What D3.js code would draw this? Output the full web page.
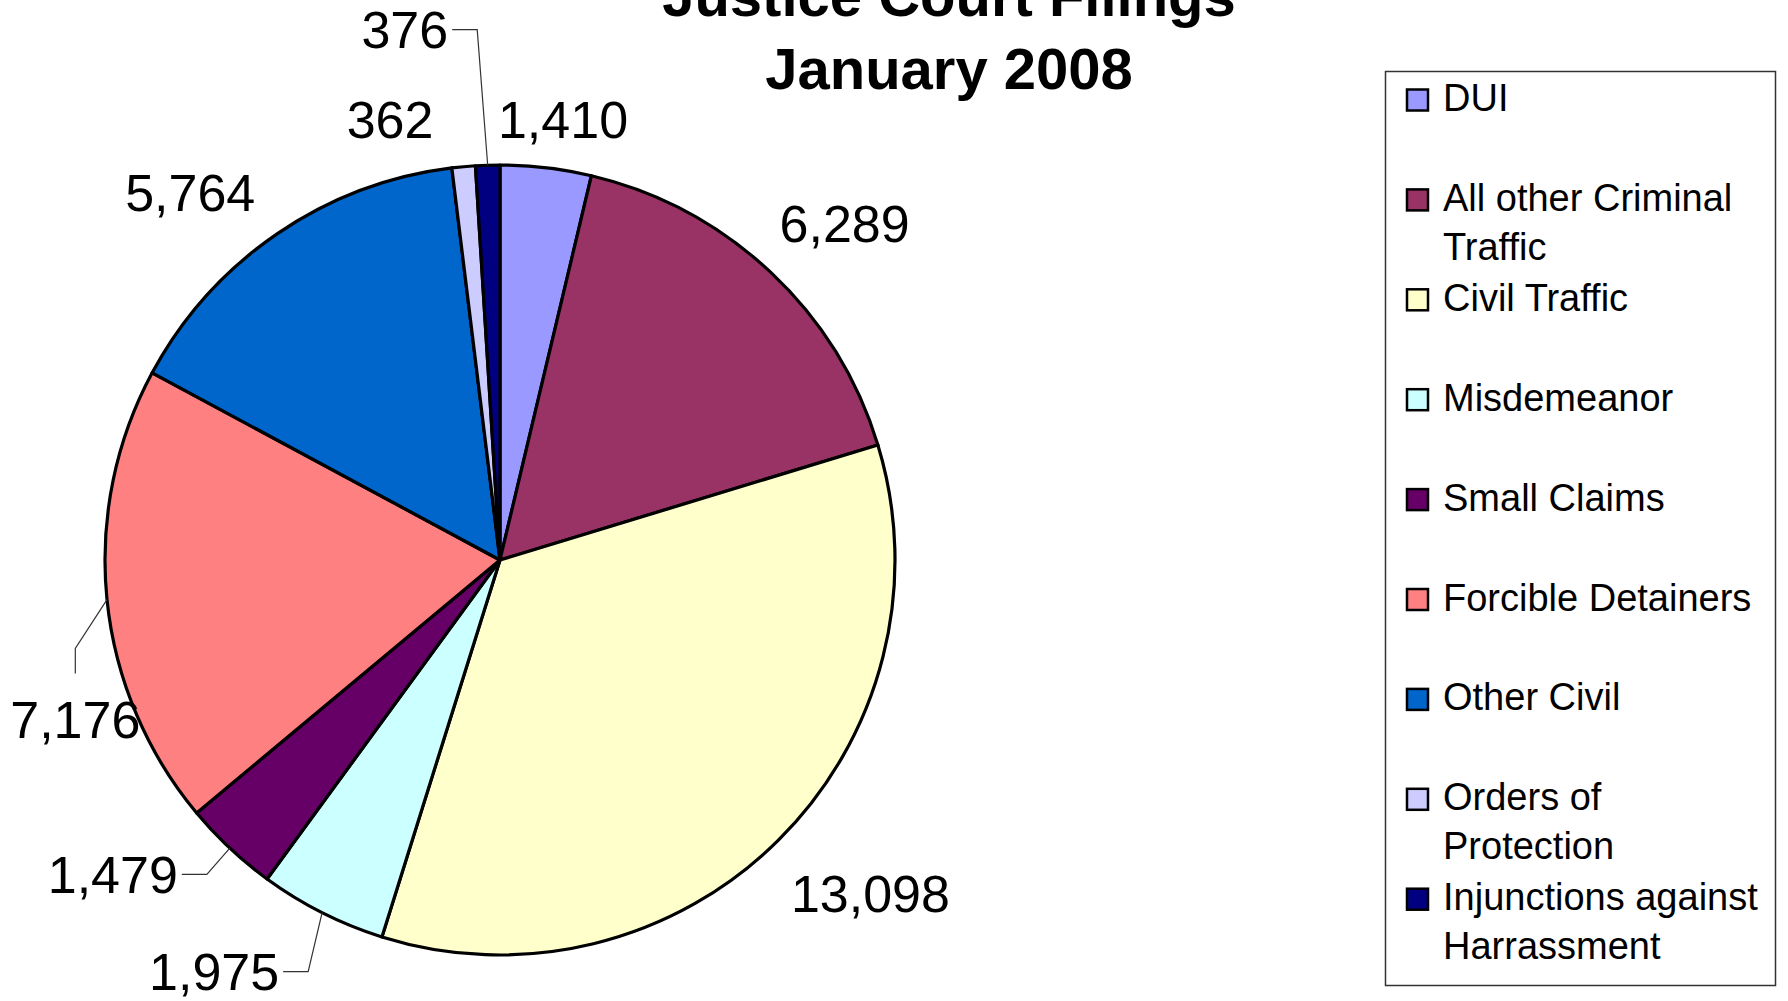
<!DOCTYPE html>
<html>
<head>
<meta charset="utf-8">
<script src="https://cdn.jsdelivr.net/npm/d3@7"></script>
<style>
  html, body { margin: 0; padding: 0; background: #fff; }
  svg { display: block; }
  text { font-family: "Liberation Sans", Arial, sans-serif; }
</style>
</head>
<body>
<svg id="chart" width="1788" height="1001"></svg>
<script>
// ---- data ----
const titleLines = ["Justice Court Filings", "January 2008"];
const categories = ["DUI", "All other Criminal Traffic", "Civil Traffic", "Misdemeanor",
  "Small Claims", "Forcible Detainers", "Other Civil", "Orders of Protection",
  "Injunctions against Harrassment"];
const legendLines = [["DUI"], ["All other Criminal", "Traffic"], ["Civil Traffic"], ["Misdemeanor"],
  ["Small Claims"], ["Forcible Detainers"], ["Other Civil"], ["Orders of", "Protection"],
  ["Injunctions against", "Harrassment"]];
const values = [1410, 6289, 13098, 1975, 1479, 7176, 5764, 362, 376];
const colors = ["#9999FF", "#993366", "#FFFFCC", "#CCFFFF", "#660066", "#FF8080", "#0066CC", "#CCCCFF", "#000080"];

// ---- layout (not data) ----
const cx = 500, cy = 560, R = 395;
const labelRadius = R + 60;
// offsets of each label from its anchor on the label circle
const labelOffsets = [[10, 30], [33, 14], [50, 29], [-81, 24], [-76, 1], [28, 132], [-53, 27], [-68, 31], [-81, -57]];
// leader style per slice: null = none, "right" = elbow to the right of text, "top" = elbow above text
const leaderStyle = [null, null, null, "right", "right", "top", null, null, "right"];

const svg = d3.select("#chart");
const fmt = d3.format(",");

// title
svg.append("g").selectAll("text").data(titleLines).join("text")
  .attr("x", 949).attr("y", (d, i) => 16 + i * 73)
  .attr("text-anchor", "middle")
  .attr("font-size", 58).attr("font-weight", "bold")
  .text(d => d);

// pie
const pie = d3.pie().sort(null).value(d => d).startAngle(0).endAngle(2 * Math.PI);
const arcs = pie(values);
const arc = d3.arc().innerRadius(0).outerRadius(R);
const gPie = svg.append("g").attr("transform", `translate(${cx},${cy})`);
gPie.selectAll("path").data(arcs).join("path")
  .attr("d", arc)
  .attr("fill", (d, i) => colors[i])
  .attr("stroke", "#000").attr("stroke-width", 3.2).attr("stroke-linejoin", "round");

// labels
const labelArc = d3.arc().innerRadius(labelRadius).outerRadius(labelRadius);
const edgeArc = d3.arc().innerRadius(R).outerRadius(R);
const gLab = svg.append("g").attr("transform", `translate(${cx},${cy})`);
arcs.forEach((a, i) => {
  const mid = (a.startAngle + a.endAngle) / 2;
  const p = labelArc.centroid({startAngle: mid, endAngle: mid});
  const x = p[0] + labelOffsets[i][0], y = p[1] + labelOffsets[i][1];
  const t = gLab.append("text")
    .attr("x", x).attr("y", y)
    .attr("text-anchor", "middle")
    .attr("font-size", 52)
    .text(fmt(values[i]));
  if (leaderStyle[i]) {
    const bb = t.node().getBBox();
    const e = edgeArc.centroid({startAngle: mid, endAngle: mid});
    let attach, elbow;
    const capH = 52 * 0.716;
    if (leaderStyle[i] === "right") {
      attach = [bb.x + bb.width + 4, y - capH / 2];
      elbow = [attach[0] + 25, attach[1]];
    } else {
      attach = [x, y - capH - 27];
      elbow = [x, attach[1] - 25];
    }
    gLab.append("path")
      .attr("d", d3.line()([attach, elbow, e]))
      .attr("fill", "none").attr("stroke", "#333").attr("stroke-width", 1.2);
  }
});

// legend
const lg = svg.append("g");
lg.append("rect").attr("x", 1385.5).attr("y", 71.5).attr("width", 390).attr("height", 914)
  .attr("fill", "#fff").attr("stroke", "#333").attr("stroke-width", 1.5);
const yLeg = d3.scaleLinear().domain([0, categories.length - 1]).range([111, 111 + 8 * 99.9]);
const items = lg.selectAll("g.item").data(categories).join("g").attr("class", "item")
  .attr("transform", (d, i) => `translate(0,${yLeg(i)})`);
items.append("rect")
  .attr("x", 1407).attr("y", -11 - 10.5).attr("width", 21).attr("height", 21)
  .attr("fill", (d, i) => colors[i]).attr("stroke", "#000").attr("stroke-width", 2.5);
items.append("text")
  .attr("x", 1443).attr("y", 0).attr("font-size", 38)
  .selectAll("tspan").data((d, i) => legendLines[i]).join("tspan")
  .attr("x", 1443).attr("dy", (d, j) => j === 0 ? 0 : 49)
  .text(d => d);
</script>
</body>
</html>
